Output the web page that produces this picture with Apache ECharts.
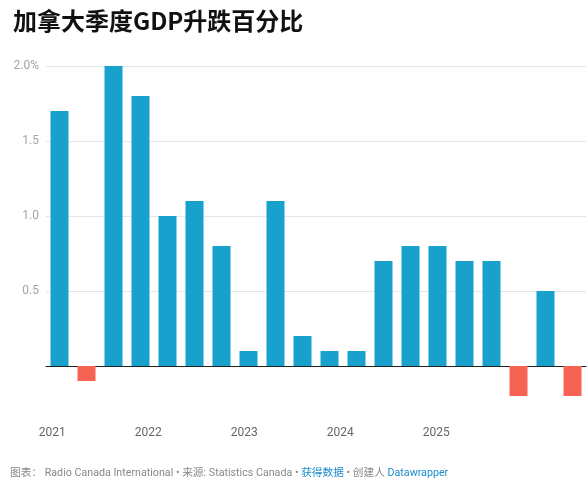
<!DOCTYPE html>
<html>
<head>
<meta charset="utf-8">
<script src="https://cdn.jsdelivr.net/npm/echarts@6/dist/echarts.min.js"></script>
<style>
  html, body { margin: 0; padding: 0; background: #fff; }
  #chart { width: 588px; height: 496px; }
</style>
</head>
<body>
<div id="chart"></div>
<script>
// quarterly GDP change, 2021 Q1 .. 2025 Q4
const quarters = [
  '2021 Q1', '2021 Q2', '2021 Q3', '2021 Q4',
  '2022 Q1', '2022 Q2', '2022 Q3', '2022 Q4',
  '2023 Q1', '2023 Q2', '2023 Q3', '2023 Q4',
  '2024 Q1', '2024 Q2', '2024 Q3', '2024 Q4',
  '2025 Q1', '2025 Q2', '2025 Q3', '2025 Q4'
]
const gdpChange = [1.7, -0.1, 2.0, 1.8, 1.0, 1.1, 0.8, 0.1, 1.1, 0.2, 0.1, 0.1, 0.7, 0.8, 0.8, 0.7, 0.7, -0.2, 0.5, -0.2]
const yearLabels = [2021, 2022, 2023, 2024, 2025]

const font = 'Roboto, "Noto Sans CJK SC", sans-serif'
const chart = echarts.init(document.getElementById('chart'))

const option = {
  animation: false,
  title: {
    text: '加拿大季度GDP升跌百分比',
    left: 8,
    top: 4,
    textStyle: {
      fontFamily: '"Noto Sans CJK SC", sans-serif',
      fontSize: 24,
      fontWeight: 'bold',
      color: '#111',
    },
  },
  grid: {
    left: 46,
    right: 2,
    top: 66,
    bottom: 55,
  },
  xAxis: [
    {
      type: 'category',
      data: quarters,
      axisLine: {
        onZero: true,
        lineStyle: { color: '#222', width: 1 },
      },
      axisTick: { show: false },
      axisLabel: { show: false },
    },
    {
      // year labels sit on their own scale, like the original
      type: 'value',
      position: 'bottom',
      offset: -22,
      min: 2020.935,
      max: 2026.56,
      axisLine: { show: false },
      axisTick: { show: false },
      splitLine: { show: false },
      axisLabel: {
        customValues: yearLabels,
        formatter: (v) => String(v),
        color: '#666',
        fontSize: 12,
        fontFamily: font,
        margin: 8,
      },
    },
  ],
  yAxis: {
    type: 'value',
    min: -0.5,
    max: 2,
    interval: 0.5,
    axisLine: { show: false },
    axisTick: { show: false },
    axisLabel: {
      color: '#a3a3a3',
      fontSize: 12,
      fontFamily: font,
      margin: 7,
      formatter: function (value) {
        if (value <= 0) return ''
        if (value === 2) return value.toFixed(1) + '%'
        return value.toFixed(1)
      },
    },
    splitLine: {
      showMinLine: false,
      lineStyle: { color: '#e6e6e6', width: 1 },
    },
  },
  series: [
    {
      type: 'bar',
      data: gdpChange,
      barWidth: 18,
      itemStyle: {
        color: (p) => (p.value < 0 ? '#f76353' : '#18a1cd'),
      },
    },
  ],
  graphic: [
    {
      type: 'text',
      left: 10,
      top: 468,
      style: {
        text: '{g|图表： Radio Canada International • 来源: Statistics Canada • }{b|获得数据}{g| • 创建人 }{b|Datawrapper}',
        rich: {
          g: { fontSize: 10.7, fontFamily: font, fill: '#888', color: '#888' },
          b: { fontSize: 10.7, fontFamily: font, fill: '#1a8ccd', color: '#1a8ccd' },
        },
      },
    },
  ],
}

chart.setOption(option)
</script>
</body>
</html>
